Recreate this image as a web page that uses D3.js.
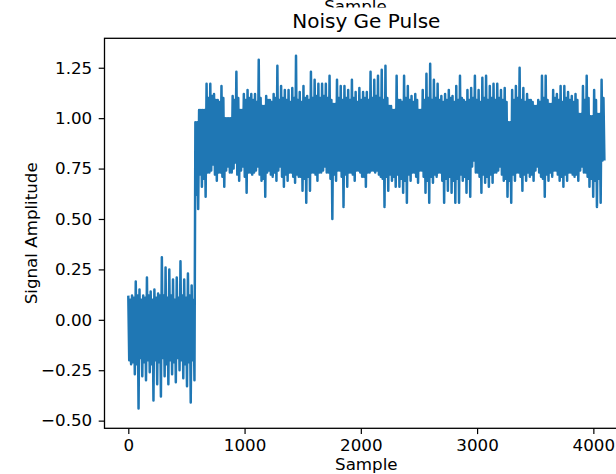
<!DOCTYPE html>
<html>
<head>
<meta charset="utf-8">
<script src="https://cdn.jsdelivr.net/npm/d3@7"></script>
<style>
  html, body { margin: 0; padding: 0; background: #fff; }
  svg { display: block; font-family: "DejaVu Sans", sans-serif; }
</style>
</head>
<body>
<svg id="chart" width="616" height="474"></svg>
<script>
// Ge detector pulse: 4096 samples, shown per segment as
// crest -> dense-core low -> dense-core high -> trough
const sampleCount = 4096;

// crest readings
const upper = [
  0.12, 0.12, 0.19, 0.15, 0.12, 0.21, 0.14, 0.15, 0.13, 0.31, 0.26, 0.25, 0.20, 0.21, 0.29, 0.20, 0.23, 0.17,
  0.98, 1.04, 1.04, 1.17, 1.17, 1.12, 1.09, 1.16, 1.00, 1.00,
  1.11, 1.23, 1.04, 1.12, 1.14, 1.12, 1.12, 1.29, 1.06, 1.11,
  1.09, 1.12, 1.26, 1.16, 1.14, 1.14, 1.15, 1.31, 1.13, 1.16,
  1.11, 1.23, 1.19, 1.17, 1.17, 1.17, 1.21, 1.07, 1.19, 1.16,
  1.16, 1.14, 1.19, 1.13, 1.15, 1.13, 1.13, 1.23, 1.19, 1.21,
  1.24, 1.26, 1.06, 1.04, 1.21, 1.09, 1.21, 1.16, 1.11, 1.12,
  1.04, 1.14, 1.22, 1.27, 1.19, 1.17, 1.11, 1.12, 1.14, 1.11,
  1.16, 1.21, 1.09, 1.14, 1.15, 1.21, 1.14, 1.20, 1.21, 1.16,
  1.17, 1.17, 1.14, 1.15, 0.98, 1.14, 1.16, 1.25, 1.15, 1.12,
  1.09, 1.06, 1.09, 1.21, 1.21, 1.07, 1.14, 1.12, 1.16, 1.16,
  1.13, 1.11, 1.12, 1.02, 1.16, 1.21, 1.01, 1.14, 1.02, 1.19
];

// lower edge of the dense core
const coreLow = [
  -0.20, -0.21, -0.22, -0.19, -0.21, -0.20, -0.22, -0.20, -0.21, -0.19, -0.22, -0.20, -0.21, -0.19, -0.20, -0.22, -0.21, -0.20,
  0.62, 0.72, 0.70, 0.73, 0.74, 0.72, 0.73, 0.71, 0.74, 0.73,
  0.75, 0.72, 0.74, 0.71, 0.73, 0.72, 0.74, 0.72, 0.70, 0.73,
  0.72, 0.73, 0.74, 0.71, 0.72, 0.73, 0.71, 0.72, 0.71, 0.70,
  0.71, 0.73, 0.72, 0.73, 0.74, 0.73, 0.70, 0.72, 0.74, 0.71,
  0.72, 0.73, 0.72, 0.74, 0.73, 0.71, 0.73, 0.74, 0.73, 0.72,
  0.70, 0.71, 0.72, 0.71, 0.72, 0.70, 0.69, 0.72, 0.73, 0.71,
  0.74, 0.71, 0.69, 0.71, 0.72, 0.73, 0.69, 0.70, 0.71, 0.69,
  0.70, 0.72, 0.71, 0.70, 0.76, 0.73, 0.71, 0.72, 0.71, 0.72,
  0.73, 0.74, 0.72, 0.70, 0.69, 0.72, 0.73, 0.71, 0.72, 0.73,
  0.72, 0.74, 0.73, 0.70, 0.72, 0.73, 0.74, 0.72, 0.71, 0.72,
  0.73, 0.72, 0.72, 0.74, 0.73, 0.71, 0.70, 0.69, 0.70, 0.79
];

// upper edge of the dense core
const coreHigh = [
  0.10, 0.11, 0.12, 0.10, 0.11, 0.12, 0.10, 0.11, 0.12, 0.12, 0.11, 0.12, 0.10, 0.11, 0.12, 0.11, 0.12, 0.10,
  0.98, 1.04, 1.04, 1.10, 1.11, 1.09, 1.08, 1.10, 1.00, 1.00,
  1.09, 1.10, 1.04, 1.09, 1.10, 1.09, 1.08, 1.10, 1.06, 1.09,
  1.08, 1.10, 1.09, 1.10, 1.09, 1.08, 1.10, 1.09, 1.08, 1.10,
  1.09, 1.10, 1.11, 1.10, 1.11, 1.10, 1.09, 1.07, 1.10, 1.09,
  1.10, 1.09, 1.10, 1.08, 1.09, 1.10, 1.09, 1.10, 1.11, 1.10,
  1.09, 1.10, 1.06, 1.04, 1.09, 1.08, 1.10, 1.09, 1.08, 1.09,
  1.04, 1.09, 1.10, 1.09, 1.10, 1.09, 1.08, 1.09, 1.10, 1.08,
  1.09, 1.10, 1.08, 1.09, 1.10, 1.09, 1.08, 1.10, 1.09, 1.10,
  1.09, 1.10, 1.09, 1.08, 0.98, 1.09, 1.10, 1.09, 1.08, 1.09,
  1.08, 1.06, 1.08, 1.10, 1.09, 1.07, 1.10, 1.09, 1.08, 1.10,
  1.09, 1.08, 1.09, 1.02, 1.09, 1.10, 1.01, 1.09, 1.02, 1.10
];

// trough readings
const lower = [
  -0.22, -0.27, -0.44, -0.28, -0.30, -0.26, -0.40, -0.32, -0.38, -0.28, -0.32, -0.27, -0.31, -0.25, -0.29, -0.33, -0.41, -0.30,
  0.55, 0.66, 0.61, 0.73, 0.77, 0.69, 0.73, 0.66, 0.76, 0.73,
  0.78, 0.69, 0.76, 0.63, 0.73, 0.73, 0.76, 0.69, 0.61, 0.74,
  0.71, 0.69, 0.76, 0.66, 0.69, 0.73, 0.68, 0.71, 0.64, 0.58,
  0.64, 0.73, 0.69, 0.73, 0.76, 0.73, 0.50, 0.69, 0.74, 0.56,
  0.66, 0.73, 0.69, 0.74, 0.71, 0.66, 0.73, 0.74, 0.74, 0.71,
  0.56, 0.64, 0.69, 0.66, 0.66, 0.63, 0.58, 0.69, 0.73, 0.68,
  0.74, 0.63, 0.58, 0.68, 0.71, 0.73, 0.58, 0.64, 0.63, 0.58,
  0.58, 0.69, 0.63, 0.61, 0.79, 0.73, 0.63, 0.68, 0.66, 0.68,
  0.73, 0.76, 0.69, 0.61, 0.58, 0.69, 0.73, 0.64, 0.69, 0.71,
  0.69, 0.76, 0.71, 0.61, 0.69, 0.71, 0.74, 0.69, 0.66, 0.69,
  0.73, 0.71, 0.69, 0.76, 0.73, 0.66, 0.61, 0.56, 0.58, 0.79
];

const xTicks = [0, 1000, 2000, 3000, 4000];
const yTicks = [-0.5, -0.25, 0, 0.25, 0.5, 0.75, 1.0, 1.25];

// axis limits
const xLimits = [-204.75, 4299.75];
const yLimits = [-0.538, 1.396];

// spread the readings evenly across the sample range
const nPts = upper.length * 4;
const sampleAt = k => k * (sampleCount - 1) / (nPts - 1);
const trace = [];
upper.forEach((u, i) => {
  trace.push({ s: sampleAt(4 * i),     v: u });
  trace.push({ s: sampleAt(4 * i + 1), v: coreLow[i] });
  trace.push({ s: sampleAt(4 * i + 2), v: coreHigh[i] });
  trace.push({ s: sampleAt(4 * i + 3), v: lower[i] });
});

const svg = d3.select("#chart");
const plotL = 104.5, plotR = 628.2, plotT = 38.3, plotB = 428.3;

const x = d3.scaleLinear().domain(xLimits).range([plotL, plotR]);
const y = d3.scaleLinear().domain(yLimits).range([plotB, plotT]);

svg.append("rect").attr("width", 616).attr("height", 474).attr("fill", "#fff");

const defs = svg.append("defs");
defs.append("clipPath").attr("id", "plotArea")
  .append("rect").attr("x", plotL).attr("y", plotT)
  .attr("width", plotR - plotL).attr("height", plotB - plotT);
defs.append("clipPath").attr("id", "topStrip")
  .append("rect").attr("x", 0).attr("y", 0).attr("width", 616).attr("height", 7.5);

// the trace
svg.append("path")
  .datum(trace)
  .attr("clip-path", "url(#plotArea)")
  .attr("fill", "none")
  .attr("stroke", "#1f77b4")
  .attr("stroke-width", 2.5)
  .attr("stroke-linejoin", "round")
  .attr("d", d3.line().x(d => x(d.s)).y(d => y(d.v)));

const fmtY = d3.format(".2f");

const xAxis = svg.append("g")
  .attr("transform", `translate(0,${plotB})`)
  .call(d3.axisBottom(x).tickValues(xTicks).tickSize(5.8).tickSizeOuter(0).tickPadding(4.8).tickFormat(d3.format("d")));

const yAxis = svg.append("g")
  .attr("transform", `translate(${plotL},0)`)
  .call(d3.axisLeft(y).tickValues(yTicks).tickSize(5.8).tickSizeOuter(0).tickPadding(6.5).tickFormat(fmtY));

[xAxis, yAxis].forEach(g => {
  g.select(".domain").remove();
  g.selectAll(".tick line").attr("stroke", "#000").attr("stroke-width", 1.2);
  g.selectAll(".tick text").attr("fill", "#000").style("font-size", "16.7px")
    .style("font-family", "'DejaVu Sans', sans-serif");
});

// frame
svg.append("rect")
  .attr("x", plotL).attr("y", plotT)
  .attr("width", plotR - plotL).attr("height", plotB - plotT)
  .attr("fill", "none").attr("stroke", "#000").attr("stroke-width", 1.3);

// title
svg.append("text")
  .attr("x", (plotL + plotR) / 2).attr("y", 28.3)
  .attr("text-anchor", "middle")
  .style("font-size", "20px")
  .text("Noisy Ge Pulse");

// partially hidden label above the title
svg.append("text")
  .attr("clip-path", "url(#topStrip)")
  .attr("x", 355.5).attr("y", 12)
  .attr("text-anchor", "middle")
  .style("font-size", "16.7px")
  .text("Sample");

// axis labels
svg.append("text")
  .attr("x", (plotL + plotR) / 2).attr("y", 470)
  .attr("text-anchor", "middle")
  .style("font-size", "16.7px")
  .text("Sample");

svg.append("text")
  .attr("transform", `translate(37,${(plotT + plotB) / 2}) rotate(-90)`)
  .attr("text-anchor", "middle")
  .style("font-size", "16.7px")
  .text("Signal Amplitude");
</script>
</body>
</html>
